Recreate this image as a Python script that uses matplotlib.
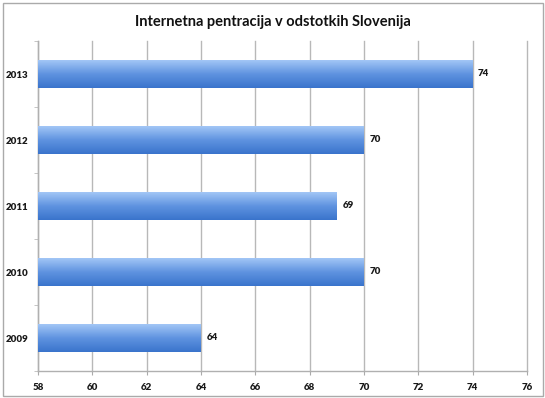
import matplotlib
matplotlib.use("Agg")
import matplotlib.pyplot as plt
import numpy as np
from matplotlib.colors import LinearSegmentedColormap
from matplotlib.patches import Rectangle

years = ["2009", "2010", "2011", "2012", "2013"]
values = [64, 70, 69, 70, 74]
xticks = [58, 60, 62, 64, 66, 68, 70, 72, 74, 76]
title = "Internetna pentracija v odstotkih Slovenija"

plt.rcParams['font.family'] = ['Lato', 'DejaVu Sans']

W, H = 545, 398
fig = plt.figure(figsize=(W/100, H/100), dpi=100)
ax = fig.add_axes([38/W, 1-371/H, (527-38)/W, (371-41)/H])

pos = np.arange(len(years))
bars = ax.barh(pos, values, height=0.41, left=0, color='none', zorder=3)
ax.set_xlim(58, 76)
ax.set_ylim(-0.5, len(years)-0.5)

cmap = LinearSegmentedColormap.from_list('g', ['#3a74cc', '#5f93e0', '#a2c6f6'])
grad = np.linspace(0, 1, 100).reshape(-1, 1)
for b in bars:
    x0, y0 = b.get_x(), b.get_y()
    w, h = b.get_width(), b.get_height()
    im = ax.imshow(grad, cmap=cmap, aspect='auto', origin='lower',
                   extent=[58, x0 + w, y0, y0 + h], zorder=3, interpolation='bilinear')
    im.set_clip_path(b)

lab_kw = dict(fontsize=7, fontweight='heavy', color='#1a1a1a')
for p, v in zip(pos, values):
    ax.text(v + 0.2, p, str(v), va='center', ha='left', **lab_kw)

ax.set_xticks(xticks)
ax.set_xticklabels([str(t) for t in xticks], **lab_kw)
ax.set_yticks(pos)
ax.set_yticklabels(years, **lab_kw)
ax.set_yticks(np.arange(-0.5, len(years), 1), minor=True)
ax.tick_params(axis='y', which='major', length=0, pad=7)
ax.tick_params(axis='y', which='minor', length=3, color='#bbbbbb', direction='out')
ax.tick_params(axis='x', length=3, color='#aaaaaa', pad=6)

ax.grid(axis='x', color='#b8b8b8', linewidth=1.0, zorder=0)
ax.set_axisbelow(True)
for gl in ax.get_xgridlines():
    gl.set_clip_on(False)
for s in ['top', 'right']:
    ax.spines[s].set_visible(False)
for s in ['left', 'bottom']:
    ax.spines[s].set_color('#b0b0b0')
    ax.spines[s].set_linewidth(1.0)

fig.text(0.5, 1-22/H, title, ha='center', va='center', fontsize=10.5, fontweight='bold', color='#111111')

fig.add_artist(Rectangle((3/W, 2/H), 540/W, 393/H, transform=fig.transFigure,
                         fill=False, edgecolor='#aaaaaa', linewidth=1.0))

fig.savefig('out.png', dpi=100)
